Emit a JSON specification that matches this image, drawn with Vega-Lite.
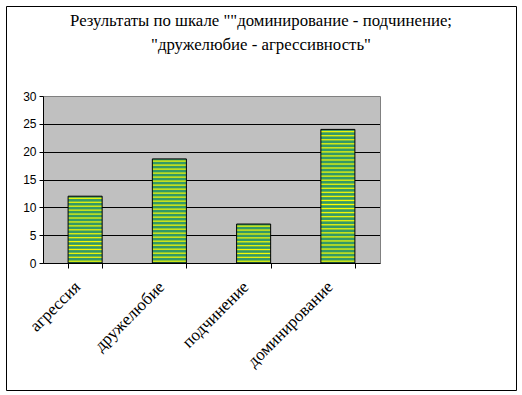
{
  "$schema": "https://vega.github.io/schema/vega-lite/v6.json",
  "width": 510,
  "height": 384,
  "autosize": {"type": "none"},
  "padding": {"left": 6, "top": 6, "right": 6, "bottom": 5},
  "background": "white",
  "title": {
    "text": ["Результаты по шкале \"\"доминирование - подчинение;", "\"дружелюбие - агрессивность\""],
    "font": "serif",
    "fontSize": 16.8,
    "fontWeight": "normal",
    "color": "black",
    "anchor": "middle",
    "frame": "group",
    "baseline": "top",
    "lineHeight": 24,
    "offset": -48
  },
  "data": {
    "values": [
      {"category": "агрессия", "value": 12},
      {"category": "дружелюбие", "value": 18.7},
      {"category": "подчинение", "value": 7},
      {"category": "доминирование", "value": 24}
    ]
  },
  "resolve": {"axis": {"y": "independent"}},
  "layer": [
    {
      "transform": [{"filter": "datum.category === 'агрессия'"}],
      "mark": {"type": "bar", "stroke": "black", "strokeWidth": 1, "fill": {
        "gradient": "linear", "x1": 0, "y1": 0, "x2": 0, "y2": 1,
        "stops": [
          {"offset": 0, "color": "#339966"},
          {"offset": 0.0147, "color": "#339966"}, {"offset": 0.0324, "color": "#ffff00"}, {"offset": 0.05, "color": "#339966"},
          {"offset": 0.0735, "color": "#339966"}, {"offset": 0.0912, "color": "#ffff00"}, {"offset": 0.1088, "color": "#339966"},
          {"offset": 0.1324, "color": "#339966"}, {"offset": 0.15, "color": "#ffff00"}, {"offset": 0.1676, "color": "#339966"},
          {"offset": 0.1912, "color": "#339966"}, {"offset": 0.2088, "color": "#ffff00"}, {"offset": 0.2265, "color": "#339966"},
          {"offset": 0.25, "color": "#339966"}, {"offset": 0.2676, "color": "#ffff00"}, {"offset": 0.2853, "color": "#339966"},
          {"offset": 0.3088, "color": "#339966"}, {"offset": 0.3265, "color": "#ffff00"}, {"offset": 0.3441, "color": "#339966"},
          {"offset": 0.3676, "color": "#339966"}, {"offset": 0.3853, "color": "#ffff00"}, {"offset": 0.4029, "color": "#339966"},
          {"offset": 0.4265, "color": "#339966"}, {"offset": 0.4441, "color": "#ffff00"}, {"offset": 0.4618, "color": "#339966"},
          {"offset": 0.4853, "color": "#339966"}, {"offset": 0.5029, "color": "#ffff00"}, {"offset": 0.5206, "color": "#339966"},
          {"offset": 0.5441, "color": "#339966"}, {"offset": 0.5618, "color": "#ffff00"}, {"offset": 0.5794, "color": "#339966"},
          {"offset": 0.6029, "color": "#339966"}, {"offset": 0.6206, "color": "#ffff00"}, {"offset": 0.6382, "color": "#339966"},
          {"offset": 0.6618, "color": "#339966"}, {"offset": 0.6794, "color": "#ffff00"}, {"offset": 0.6971, "color": "#339966"},
          {"offset": 0.7206, "color": "#339966"}, {"offset": 0.7382, "color": "#ffff00"}, {"offset": 0.7559, "color": "#339966"},
          {"offset": 0.7794, "color": "#339966"}, {"offset": 0.7971, "color": "#ffff00"}, {"offset": 0.8147, "color": "#339966"},
          {"offset": 0.8382, "color": "#339966"}, {"offset": 0.8559, "color": "#ffff00"}, {"offset": 0.8735, "color": "#339966"},
          {"offset": 0.8971, "color": "#339966"}, {"offset": 0.9147, "color": "#ffff00"}, {"offset": 0.9324, "color": "#339966"},
          {"offset": 0.9559, "color": "#339966"}, {"offset": 0.9735, "color": "#ffff00"}, {"offset": 0.9912, "color": "#339966"},
          {"offset": 1, "color": "#339966"}
        ]}},
      "encoding": {
        "x": {
          "field": "category", "type": "nominal", "sort": null,
          "scale": {"range": [37, 374], "paddingInner": 0.596, "paddingOuter": 0.298},
          "axis": {
            "title": null, "orient": "bottom", "offset": -127,
            "domainColor": "black", "tickColor": "black", "tickSize": 5, "tickBand": "extent",
            "labelAngle": -45, "labelAlign": "right", "labelBaseline": "middle",
            "labelFont": "serif", "labelFontSize": 17, "labelColor": "black",
            "labelPadding": 16, "labelOffset": -8, "grid": false
          }
        },
        "y": {
          "field": "value", "type": "quantitative",
          "scale": {"domain": [0, 30], "range": [257, 90], "nice": false},
          "axis": {
            "title": null, "orient": "left", "offset": -37,
            "domain": false, "labels": false, "ticks": false,
            "grid": true, "values": [15], "gridWidth": 167, "gridColor": "#c0c0c0", "gridCap": "butt"
          }
        }
      }
    },
    {
      "transform": [{"filter": "datum.category === 'дружелюбие'"}],
      "mark": {"type": "bar", "stroke": "black", "strokeWidth": 1, "fill": {
        "gradient": "linear", "x1": 0, "y1": 0, "x2": 0, "y2": 1,
        "stops": [
          {"offset": 0, "color": "#339966"},
          {"offset": 0.0096, "color": "#339966"}, {"offset": 0.0212, "color": "#ffff00"}, {"offset": 0.0327, "color": "#339966"},
          {"offset": 0.0481, "color": "#339966"}, {"offset": 0.0596, "color": "#ffff00"}, {"offset": 0.0712, "color": "#339966"},
          {"offset": 0.0865, "color": "#339966"}, {"offset": 0.0981, "color": "#ffff00"}, {"offset": 0.1096, "color": "#339966"},
          {"offset": 0.125, "color": "#339966"}, {"offset": 0.1365, "color": "#ffff00"}, {"offset": 0.1481, "color": "#339966"},
          {"offset": 0.1635, "color": "#339966"}, {"offset": 0.175, "color": "#ffff00"}, {"offset": 0.1865, "color": "#339966"},
          {"offset": 0.2019, "color": "#339966"}, {"offset": 0.2135, "color": "#ffff00"}, {"offset": 0.225, "color": "#339966"},
          {"offset": 0.2404, "color": "#339966"}, {"offset": 0.2519, "color": "#ffff00"}, {"offset": 0.2635, "color": "#339966"},
          {"offset": 0.2788, "color": "#339966"}, {"offset": 0.2904, "color": "#ffff00"}, {"offset": 0.3019, "color": "#339966"},
          {"offset": 0.3173, "color": "#339966"}, {"offset": 0.3288, "color": "#ffff00"}, {"offset": 0.3404, "color": "#339966"},
          {"offset": 0.3558, "color": "#339966"}, {"offset": 0.3673, "color": "#ffff00"}, {"offset": 0.3788, "color": "#339966"},
          {"offset": 0.3942, "color": "#339966"}, {"offset": 0.4058, "color": "#ffff00"}, {"offset": 0.4173, "color": "#339966"},
          {"offset": 0.4327, "color": "#339966"}, {"offset": 0.4442, "color": "#ffff00"}, {"offset": 0.4558, "color": "#339966"},
          {"offset": 0.4712, "color": "#339966"}, {"offset": 0.4827, "color": "#ffff00"}, {"offset": 0.4942, "color": "#339966"},
          {"offset": 0.5096, "color": "#339966"}, {"offset": 0.5212, "color": "#ffff00"}, {"offset": 0.5327, "color": "#339966"},
          {"offset": 0.5481, "color": "#339966"}, {"offset": 0.5596, "color": "#ffff00"}, {"offset": 0.5712, "color": "#339966"},
          {"offset": 0.5865, "color": "#339966"}, {"offset": 0.5981, "color": "#ffff00"}, {"offset": 0.6096, "color": "#339966"},
          {"offset": 0.625, "color": "#339966"}, {"offset": 0.6365, "color": "#ffff00"}, {"offset": 0.6481, "color": "#339966"},
          {"offset": 0.6635, "color": "#339966"}, {"offset": 0.675, "color": "#ffff00"}, {"offset": 0.6865, "color": "#339966"},
          {"offset": 0.7019, "color": "#339966"}, {"offset": 0.7135, "color": "#ffff00"}, {"offset": 0.725, "color": "#339966"},
          {"offset": 0.7404, "color": "#339966"}, {"offset": 0.7519, "color": "#ffff00"}, {"offset": 0.7635, "color": "#339966"},
          {"offset": 0.7788, "color": "#339966"}, {"offset": 0.7904, "color": "#ffff00"}, {"offset": 0.8019, "color": "#339966"},
          {"offset": 0.8173, "color": "#339966"}, {"offset": 0.8288, "color": "#ffff00"}, {"offset": 0.8404, "color": "#339966"},
          {"offset": 0.8558, "color": "#339966"}, {"offset": 0.8673, "color": "#ffff00"}, {"offset": 0.8788, "color": "#339966"},
          {"offset": 0.8942, "color": "#339966"}, {"offset": 0.9058, "color": "#ffff00"}, {"offset": 0.9173, "color": "#339966"},
          {"offset": 0.9327, "color": "#339966"}, {"offset": 0.9442, "color": "#ffff00"}, {"offset": 0.9558, "color": "#339966"},
          {"offset": 0.9712, "color": "#339966"}, {"offset": 0.9827, "color": "#ffff00"}, {"offset": 0.9942, "color": "#339966"},
          {"offset": 1, "color": "#339966"}
        ]}},
      "encoding": {
        "x": {"field": "category", "type": "nominal", "sort": null},
        "y": {
          "field": "value", "type": "quantitative",
          "axis": {
            "title": null, "orient": "left", "offset": -37,
            "values": [0, 5, 10, 15, 20, 25, 30],
            "domainColor": "black", "tickColor": "black", "tickSize": 4,
            "labelFont": "sans-serif", "labelFontSize": 12, "labelColor": "black", "labelPadding": 3,
            "grid": true,
            "gridColor": {"condition": {"test": "datum.value === 30", "value": "#808080"}, "value": "black"}
          }
        }
      }
    },
    {
      "transform": [{"filter": "datum.category === 'подчинение'"}],
      "mark": {"type": "bar", "stroke": "black", "strokeWidth": 1, "fill": {
        "gradient": "linear", "x1": 0, "y1": 0, "x2": 0, "y2": 1,
        "stops": [
          {"offset": 0, "color": "#339966"},
          {"offset": 0.025, "color": "#339966"}, {"offset": 0.055, "color": "#ffff00"}, {"offset": 0.085, "color": "#339966"},
          {"offset": 0.125, "color": "#339966"}, {"offset": 0.155, "color": "#ffff00"}, {"offset": 0.185, "color": "#339966"},
          {"offset": 0.225, "color": "#339966"}, {"offset": 0.255, "color": "#ffff00"}, {"offset": 0.285, "color": "#339966"},
          {"offset": 0.325, "color": "#339966"}, {"offset": 0.355, "color": "#ffff00"}, {"offset": 0.385, "color": "#339966"},
          {"offset": 0.425, "color": "#339966"}, {"offset": 0.455, "color": "#ffff00"}, {"offset": 0.485, "color": "#339966"},
          {"offset": 0.525, "color": "#339966"}, {"offset": 0.555, "color": "#ffff00"}, {"offset": 0.585, "color": "#339966"},
          {"offset": 0.625, "color": "#339966"}, {"offset": 0.655, "color": "#ffff00"}, {"offset": 0.685, "color": "#339966"},
          {"offset": 0.725, "color": "#339966"}, {"offset": 0.755, "color": "#ffff00"}, {"offset": 0.785, "color": "#339966"},
          {"offset": 0.825, "color": "#339966"}, {"offset": 0.855, "color": "#ffff00"}, {"offset": 0.885, "color": "#339966"},
          {"offset": 0.925, "color": "#339966"}, {"offset": 0.955, "color": "#ffff00"}, {"offset": 0.985, "color": "#339966"},
          {"offset": 1, "color": "#339966"}
        ]}},
      "encoding": {
        "x": {"field": "category", "type": "nominal", "sort": null},
        "y": {
          "field": "value", "type": "quantitative",
          "axis": {
            "title": null, "orient": "right", "offset": -136,
            "domainColor": "#808080", "labels": false, "ticks": false, "grid": false
          }
        }
      }
    },
    {
      "transform": [{"filter": "datum.category === 'доминирование'"}],
      "mark": {"type": "bar", "stroke": "black", "strokeWidth": 1, "fill": {
        "gradient": "linear", "x1": 0, "y1": 0, "x2": 0, "y2": 1,
        "stops": [
          {"offset": 0, "color": "#339966"},
          {"offset": 0.0076, "color": "#339966"}, {"offset": 0.0167, "color": "#ffff00"}, {"offset": 0.0258, "color": "#339966"},
          {"offset": 0.0379, "color": "#339966"}, {"offset": 0.047, "color": "#ffff00"}, {"offset": 0.0561, "color": "#339966"},
          {"offset": 0.0682, "color": "#339966"}, {"offset": 0.0773, "color": "#ffff00"}, {"offset": 0.0864, "color": "#339966"},
          {"offset": 0.0985, "color": "#339966"}, {"offset": 0.1076, "color": "#ffff00"}, {"offset": 0.1167, "color": "#339966"},
          {"offset": 0.1288, "color": "#339966"}, {"offset": 0.1379, "color": "#ffff00"}, {"offset": 0.147, "color": "#339966"},
          {"offset": 0.1591, "color": "#339966"}, {"offset": 0.1682, "color": "#ffff00"}, {"offset": 0.1773, "color": "#339966"},
          {"offset": 0.1894, "color": "#339966"}, {"offset": 0.1985, "color": "#ffff00"}, {"offset": 0.2076, "color": "#339966"},
          {"offset": 0.2197, "color": "#339966"}, {"offset": 0.2288, "color": "#ffff00"}, {"offset": 0.2379, "color": "#339966"},
          {"offset": 0.25, "color": "#339966"}, {"offset": 0.2591, "color": "#ffff00"}, {"offset": 0.2682, "color": "#339966"},
          {"offset": 0.2803, "color": "#339966"}, {"offset": 0.2894, "color": "#ffff00"}, {"offset": 0.2985, "color": "#339966"},
          {"offset": 0.3106, "color": "#339966"}, {"offset": 0.3197, "color": "#ffff00"}, {"offset": 0.3288, "color": "#339966"},
          {"offset": 0.3409, "color": "#339966"}, {"offset": 0.35, "color": "#ffff00"}, {"offset": 0.3591, "color": "#339966"},
          {"offset": 0.3712, "color": "#339966"}, {"offset": 0.3803, "color": "#ffff00"}, {"offset": 0.3894, "color": "#339966"},
          {"offset": 0.4015, "color": "#339966"}, {"offset": 0.4106, "color": "#ffff00"}, {"offset": 0.4197, "color": "#339966"},
          {"offset": 0.4318, "color": "#339966"}, {"offset": 0.4409, "color": "#ffff00"}, {"offset": 0.45, "color": "#339966"},
          {"offset": 0.4621, "color": "#339966"}, {"offset": 0.4712, "color": "#ffff00"}, {"offset": 0.4803, "color": "#339966"},
          {"offset": 0.4924, "color": "#339966"}, {"offset": 0.5015, "color": "#ffff00"}, {"offset": 0.5106, "color": "#339966"},
          {"offset": 0.5227, "color": "#339966"}, {"offset": 0.5318, "color": "#ffff00"}, {"offset": 0.5409, "color": "#339966"},
          {"offset": 0.553, "color": "#339966"}, {"offset": 0.5621, "color": "#ffff00"}, {"offset": 0.5712, "color": "#339966"},
          {"offset": 0.5833, "color": "#339966"}, {"offset": 0.5924, "color": "#ffff00"}, {"offset": 0.6015, "color": "#339966"},
          {"offset": 0.6136, "color": "#339966"}, {"offset": 0.6227, "color": "#ffff00"}, {"offset": 0.6318, "color": "#339966"},
          {"offset": 0.6439, "color": "#339966"}, {"offset": 0.653, "color": "#ffff00"}, {"offset": 0.6621, "color": "#339966"},
          {"offset": 0.6742, "color": "#339966"}, {"offset": 0.6833, "color": "#ffff00"}, {"offset": 0.6924, "color": "#339966"},
          {"offset": 0.7045, "color": "#339966"}, {"offset": 0.7136, "color": "#ffff00"}, {"offset": 0.7227, "color": "#339966"},
          {"offset": 0.7348, "color": "#339966"}, {"offset": 0.7439, "color": "#ffff00"}, {"offset": 0.753, "color": "#339966"},
          {"offset": 0.7652, "color": "#339966"}, {"offset": 0.7742, "color": "#ffff00"}, {"offset": 0.7833, "color": "#339966"},
          {"offset": 0.7955, "color": "#339966"}, {"offset": 0.8045, "color": "#ffff00"}, {"offset": 0.8136, "color": "#339966"},
          {"offset": 0.8258, "color": "#339966"}, {"offset": 0.8348, "color": "#ffff00"}, {"offset": 0.8439, "color": "#339966"},
          {"offset": 0.8561, "color": "#339966"}, {"offset": 0.8652, "color": "#ffff00"}, {"offset": 0.8742, "color": "#339966"},
          {"offset": 0.8864, "color": "#339966"}, {"offset": 0.8955, "color": "#ffff00"}, {"offset": 0.9045, "color": "#339966"},
          {"offset": 0.9167, "color": "#339966"}, {"offset": 0.9258, "color": "#ffff00"}, {"offset": 0.9348, "color": "#339966"},
          {"offset": 0.947, "color": "#339966"}, {"offset": 0.9561, "color": "#ffff00"}, {"offset": 0.9652, "color": "#339966"},
          {"offset": 0.9773, "color": "#339966"}, {"offset": 0.9864, "color": "#ffff00"}, {"offset": 0.9955, "color": "#339966"},
          {"offset": 1, "color": "#339966"}
        ]}},
      "encoding": {
        "x": {"field": "category", "type": "nominal", "sort": null},
        "y": {"field": "value", "type": "quantitative", "axis": null}
      }
    }
  ],
  "config": {
    "view": {"stroke": "black", "strokeWidth": 1, "fill": "white"}
  }
}
